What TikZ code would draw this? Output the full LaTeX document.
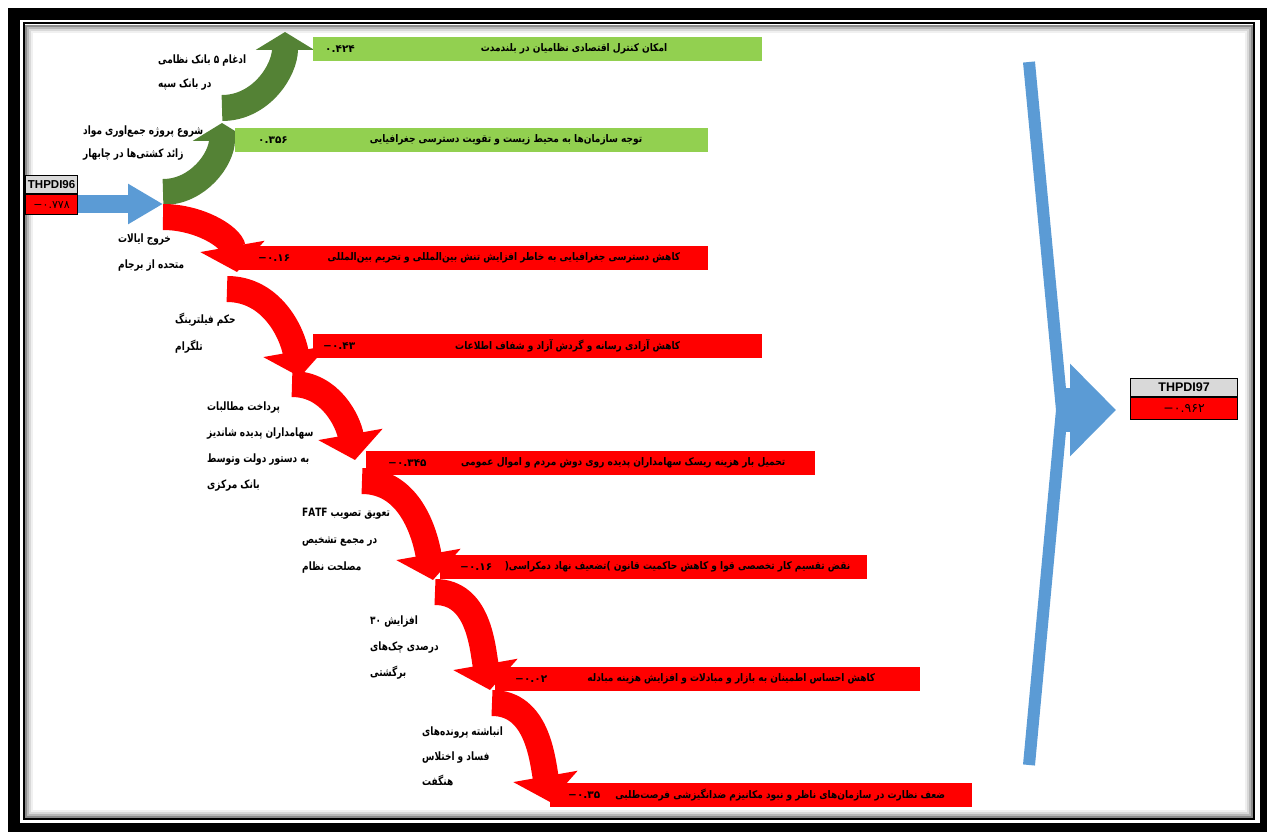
\documentclass[tikz,border=0pt]{standalone}
\usepackage{fontspec}
\usepackage{graphicx}
\usepackage{tikz}
\usepackage{xcolor}
\usetikzlibrary{arrows.meta}
\newfontfamily\arabicfont[Script=Arabic]{DejaVu Sans}
\newfontfamily\latinfont{Liberation Sans}
\TeXXeTstate=1
\newcommand{\fatext}[2][0.78]{\scalebox{#1}[1]{\beginR #2\endR}}
\newcommand{\negval}[1]{\hbox{−}#1}
\definecolor{barred}{RGB}{255,0,0}
\definecolor{bargreen}{RGB}{146,208,80}
\definecolor{darkgreen}{RGB}{84,130,53}
\definecolor{flowblue}{RGB}{91,155,213}
\definecolor{boxgray}{RGB}{217,217,217}
\tikzset{
  redflow/.style={draw=barred, line width=26pt, -{Triangle[length=26pt,width=64pt]}},
  greenflow/.style={draw=darkgreen, line width=26pt, -{Triangle[length=18pt,width=58pt]}},
  redbar/.style={fill=barred, inner sep=0pt, minimum height=24pt, anchor=north west},
  greenbar/.style={fill=bargreen, inner sep=0pt, minimum height=24pt, anchor=north west},
  bartext/.style={font=\arabicfont\bfseries\fontsize{10.5}{12}\selectfont, inner sep=0pt, anchor=east},
  barvalue/.style={font=\arabicfont\bfseries\fontsize{10.5}{12}\selectfont, inner sep=0pt, anchor=west},
  cause/.style={font=\arabicfont\bfseries\fontsize{11.5}{#1}\selectfont, align=left, inner sep=0pt, anchor=north west},
  namebox/.style={draw, line width=1.2pt, fill=boxgray, inner sep=0pt, anchor=north west, font=\latinfont\bfseries\fontsize{11.5}{12}\selectfont},
  valbox/.style={draw, line width=1.2pt, fill=barred, inner sep=0pt, anchor=north west, font=\arabicfont\fontsize{11}{12}\selectfont}
}
\begin{document}
\begin{tikzpicture}[x=1pt,y=1pt]
\useasboundingbox (0,0) rectangle (1267,-832);
% frame
\draw[line width=12pt] (14,-14) rectangle (1266,-829);
\draw[line width=2pt] (23.5,-23.5) rectangle (1254,-819);
\foreach \d/\c in {2.5/45,4.5/28,6.5/15,8.5/6}
  \draw[black!\c, line width=2pt] (23.5+\d,-23.5-\d) rectangle (1254-\d,-819+\d);

% start and end boxes
\node[namebox, minimum width=52pt, minimum height=18pt] (n96) at (25,-175) {THPDI96};
\node[valbox, minimum width=52pt, minimum height=20pt] (v96) at (n96.south west) {\negval{۰.۷۷۸}};
\node[namebox, minimum width=107pt, minimum height=18pt, font=\latinfont\bfseries\fontsize{12.5}{12}\selectfont] (n97) at (1130,-378) {THPDI97};
\node[valbox, minimum width=107pt, minimum height=22pt, font=\arabicfont\fontsize{12.5}{12}\selectfont] (v97) at (n97.south west) {\negval{۰.۹۶۲}};

% junctions
\coordinate (fork) at (163,-204);
\coordinate (g1tip) at (222,-123);
\coordinate (g2tip) at (285,-32);
\coordinate (r1tip) at (237,-272);
\coordinate (r2tip) at (300,-377);
\coordinate (r3tip) at (355,-460);
\coordinate (r4tip) at (433,-580);
\coordinate (r5tip) at (490,-690);
\coordinate (r6tip) at (550,-802);

% blue arrows
\draw[flowblue, line width=18pt, -{Triangle[length=35pt,width=38pt]}] (v96.east |- fork) -- (fork);
\coordinate (top) at (1029,-62);
\coordinate (bend) at (1062,-410);
\coordinate (bottom) at (1029,-765);
\draw[flowblue, line width=12pt] (top) -- (bend) -- (bottom);
\draw[flowblue, line width=44pt, -{Triangle[length=46pt,width=90pt]}, shorten >=14pt] (bend) -- (bend -| v97.west);

% green flows
\draw[greenflow] ([yshift=12pt]fork) to[out=0,in=-90] (g1tip);
\draw[greenflow] ([yshift=15pt]g1tip) to[out=0,in=-90] (g2tip);

% red flows
\draw[redflow] ([yshift=-13pt]fork) to[out=0,in=100] (r1tip);
\draw[redflow] (227,-289) to[out=0,in=100] (r2tip);
\draw[redflow] (292,-384) to[out=0,in=100] (r3tip);
\draw[redflow] (362,-481) to[out=0,in=100] (r4tip);
\draw[redflow] (435,-592) to[out=0,in=100] (r5tip);
\draw[redflow] (492,-703) to[out=0,in=100] (r6tip);

% bars
\node[greenbar, minimum width=449pt] (g1) at (313,-37) {};
\node[bartext] (g1t) at ([xshift=-95pt]g1.east) {\fatext[0.86]{امکان کنترل اقتصادی نظامیان در بلندمدت}};
\node[barvalue] (g1v) at ([xshift=12pt]g1.west) {۰.۴۲۴};

\node[greenbar, minimum width=473pt] (g2) at (235,-128) {};
\node[bartext] (g2t) at ([xshift=-66pt]g2.east) {\fatext[0.86]{توجه سازمان‌ها به محیط زیست و تقویت دسترسی جغرافیایی}};
\node[barvalue] (g2v) at ([xshift=23pt]g2.west) {۰.۳۵۶};

\node[redbar, minimum width=473pt] (r1) at (235,-246) {};
\node[bartext] (r1t) at ([xshift=-28pt]r1.east) {\fatext[0.86]{کاهش دسترسی جغرافیایی به خاطر افزایش تنش بین‌المللی و تحریم بین‌المللی}};
\node[barvalue] (r1v) at ([xshift=23pt]r1.west) {\negval{۰.۱۶}};

\node[redbar, minimum width=449pt] (r2) at (313,-334) {};
\node[bartext] (r2t) at ([xshift=-82pt]r2.east) {\fatext[0.86]{کاهش آزادی رسانه و گردش آزاد و شفاف اطلاعات}};
\node[barvalue] (r2v) at ([xshift=10pt]r2.west) {\negval{۰.۴۳}};

\node[redbar, minimum width=449pt] (r3) at (366,-451) {};
\node[bartext] (r3t) at ([xshift=-30pt]r3.east) {\fatext[0.86]{تحمیل بار هزینه ریسک سهامداران پدیده روی دوش مردم و اموال عمومی}};
\node[barvalue] (r3v) at ([xshift=22pt]r3.west) {\negval{۰.۳۴۵}};

\node[redbar, minimum width=427pt] (r4) at (440,-555) {};
\node[bartext] (r4t) at ([xshift=-17pt]r4.east) {\fatext[0.86]{نقض تقسیم کار تخصصی قوا و کاهش حاکمیت قانون \hbox{)}تضعیف نهاد دمکراسی\hbox{(}}};
\node[barvalue] (r4v) at ([xshift=20pt]r4.west) {\negval{۰.۱۶}};

\node[redbar, minimum width=425pt] (r5) at (495,-667) {};
\node[bartext] (r5t) at ([xshift=-45pt]r5.east) {\fatext[0.86]{کاهش احساس اطمینان به بازار و مبادلات و افزایش هزینه مبادله}};
\node[barvalue] (r5v) at ([xshift=20pt]r5.west) {\negval{۰.۰۲}};

\node[redbar, minimum width=422pt] (r6) at (550,-783) {};
\node[bartext] (r6t) at ([xshift=-27pt]r6.east) {\fatext[0.86]{ضعف نظارت در سازمان‌های ناظر و نبود مکانیزم ضدانگیزشی فرصت‌طلبی}};
\node[barvalue] (r6v) at ([xshift=18pt]r6.west) {\negval{۰.۳۵}};

% causes
\node[cause=24] (c1) at (158,-55) {\fatext{ادغام ۵ بانک نظامی}\\\fatext{در بانک سپه}};
\node[cause=23] (c2) at (83,-126) {\fatext{شروع پروژه جمع‌اوری مواد}\\\fatext{زائد کشتی‌ها در چابهار}};
\node[cause=26] (c3) at (118,-234) {\fatext{خروج ایالات}\\\fatext{متحده از برجام}};
\node[cause=27] (c4) at (175,-313) {\fatext{حکم فیلترینگ}\\\fatext{تلگرام}};
\node[cause=25.7] (c5) at (207,-402) {\fatext{پرداخت مطالبات}\\\fatext{سهامداران پدیده شاندیز}\\\fatext{به دستور دولت وتوسط}\\\fatext{بانک مرکزی}};
\node[cause=27] (c6) at (302,-508) {\fatext{تعویق تصویب \beginL FATF\endL}\\\fatext{در مجمع تشخیص}\\\fatext{مصلحت نظام}};
\node[cause=26] (c7) at (370,-616) {\fatext{افزایش ۳۰}\\\fatext{درصدی چک‌های}\\\fatext{برگشتی}};
\node[cause=25] (c8) at (422,-727) {\fatext{انباشته پرونده‌های}\\\fatext{فساد و اختلاس}\\\fatext{هنگفت}};
\end{tikzpicture}
\end{document}
